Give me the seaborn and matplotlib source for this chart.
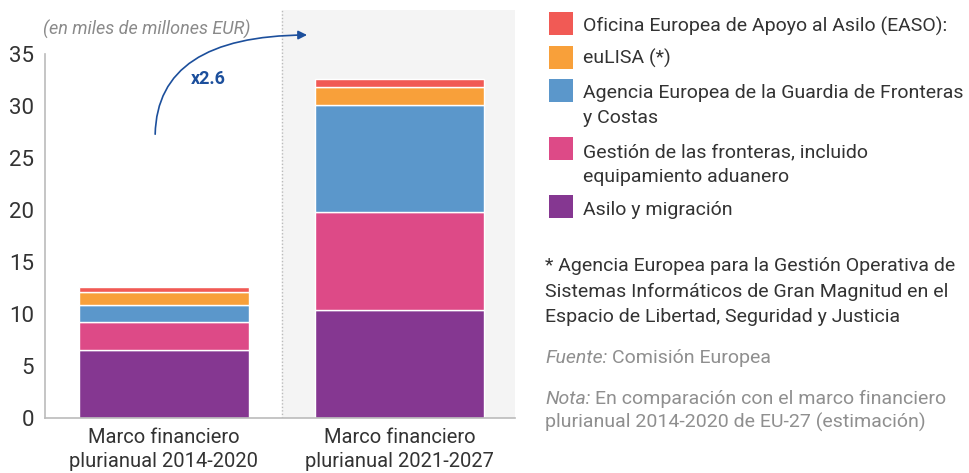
import matplotlib
matplotlib.use("Agg")
import matplotlib.pyplot as plt
from matplotlib.patches import Rectangle
import numpy as np
import seaborn as sns

# Data (miles de millones EUR)
periods = ["Marco financiero\nplurianual 2014-2020", "Marco financiero\nplurianual 2021-2027"]
series_names = [
    "Asilo y migración",
    "Gestión de las fronteras, incluido\nequipamiento aduanero",
    "Agencia Europea de la Guardia de Fronteras\ny Costas",
    "euLISA (*)",
    "Oficina Europea de Apoyo al Asilo (EASO):",
]
asilo = [6.5, 10.4]
gestion = [2.7, 9.4]
guardia = [1.7, 10.3]
eulisa = [1.2, 1.7]
easo = [0.5, 0.8]
colors = ["#853791", "#DD4A87", "#5B97CB", "#F8A03A", "#F15A55"]
y_ticks = [0, 5, 10, 15, 20, 25, 30, 35]

sns.set_theme(style="white")
plt.rcParams["font.family"] = ["Roboto", "DejaVu Sans"]

fig = plt.figure(figsize=(9.7, 4.73), dpi=100)
W, H = 970, 473
ax = fig.add_axes([45 / W, (H - 418) / H, (515 - 45) / W, (418 - 10) / H])

# grey panel behind the second period
ax.axvspan(0.5, 1.5, color="#f4f4f4", zorder=0)
ax.axvline(0.5, color="#bbbbbb", linestyle=(0, (1, 1.5)), linewidth=1, zorder=1)

bottom = np.zeros(len(periods))
for name, vals, c in zip(series_names, [asilo, gestion, guardia, eulisa, easo], colors):
    sns.barplot(x=periods, y=vals, bottom=bottom, color=c, width=0.72, saturation=1,
                edgecolor="white", linewidth=1, ax=ax, zorder=2)
    bottom += np.array(vals)

ax.set_xlim(-0.503, 1.49)
ax.set_ylim(0, 39.2)
ax.set_yticks(y_ticks)
ax.tick_params(axis="y", direction="in", length=12, width=1, color="#bbbbbb",
               labelsize=16, labelcolor="#333333", pad=8)
ax.tick_params(axis="x", length=0, labelsize=14.5, labelcolor="#333333", pad=7)
for lbl in ax.get_xticklabels():
    lbl.set_linespacing(1.35)
for s in ["top", "right"]:
    ax.spines[s].set_visible(False)
for s in ["left", "bottom"]:
    ax.spines[s].set_color("#bbbbbb")
    ax.spines[s].set_linewidth(1.2)
ax.spines["left"].set_bounds(0, 35)
ax.set_xlabel("")
ax.set_ylabel("")

ax.text(-0.51, 36.8, "(en miles de millones EUR)", style="italic", fontsize=13,
        color="#8a8a8a", va="baseline", ha="left")

# growth arrow
ax.annotate("", xy=(0.62, 36.8), xytext=(-0.036, 27.0),
            arrowprops=dict(arrowstyle="-|>", color="#1c4f9c", lw=1.2,
                            mutation_scale=13,
                            connectionstyle="angle3,angleA=90,angleB=0"),
            zorder=5)
ax.text(0.19, 32.6, "x2.6", color="#1c4f9c", fontsize=13, fontweight="bold",
        ha="center", va="center")


def lines_at(x, baselines, text, **kw):
    # one text per line so every baseline sits where the reference has it
    for yb, line in zip(baselines, text.split("\n")):
        fig.text(x / W, (H - yb) / H, line, va="baseline", ha="left", **kw)


# legend drawn by hand so the squares line up with the first text line
leg_boxes = [12, 46, 79, 137, 195]
leg_baselines = [[32], [64], [98, 123], [157, 182], [215]]
for name, c, yb, base in zip(series_names[::-1], colors[::-1], leg_boxes, leg_baselines):
    fig.patches.append(Rectangle((549 / W, (H - yb - 23) / H), 24 / W, 23 / H,
                                 transform=fig.transFigure, facecolor=c,
                                 edgecolor="none"))
    lines_at(583, base, name, fontsize=14, color="#333333")

lines_at(545, [271, 297, 322],
         "* Agencia Europea para la Gestión Operativa de\n"
         "Sistemas Informáticos de Gran Magnitud en el\n"
         "Espacio de Libertad, Seguridad y Justicia",
         fontsize=14, color="#333333")

fig.canvas.draw()
renderer = fig.canvas.get_renderer()


def mixed(y, italic_part, rest):
    t = fig.text(545 / W, (H - y) / H, italic_part, style="italic", fontsize=14,
                 color="#8f8f8f", va="baseline", ha="left")
    bb = t.get_window_extent(renderer)
    fig.text((bb.x1 + 5) / W, (H - y) / H, rest, fontsize=14, color="#8f8f8f",
             va="baseline", ha="left")


mixed(363, "Fuente:", "Comisión Europea")
mixed(404, "Nota:", "En comparación con el marco financiero")
lines_at(545, [428], "plurianual 2014-2020 de EU-27 (estimación)",
         fontsize=14, color="#8f8f8f")

fig.savefig("out.png", dpi=100)
